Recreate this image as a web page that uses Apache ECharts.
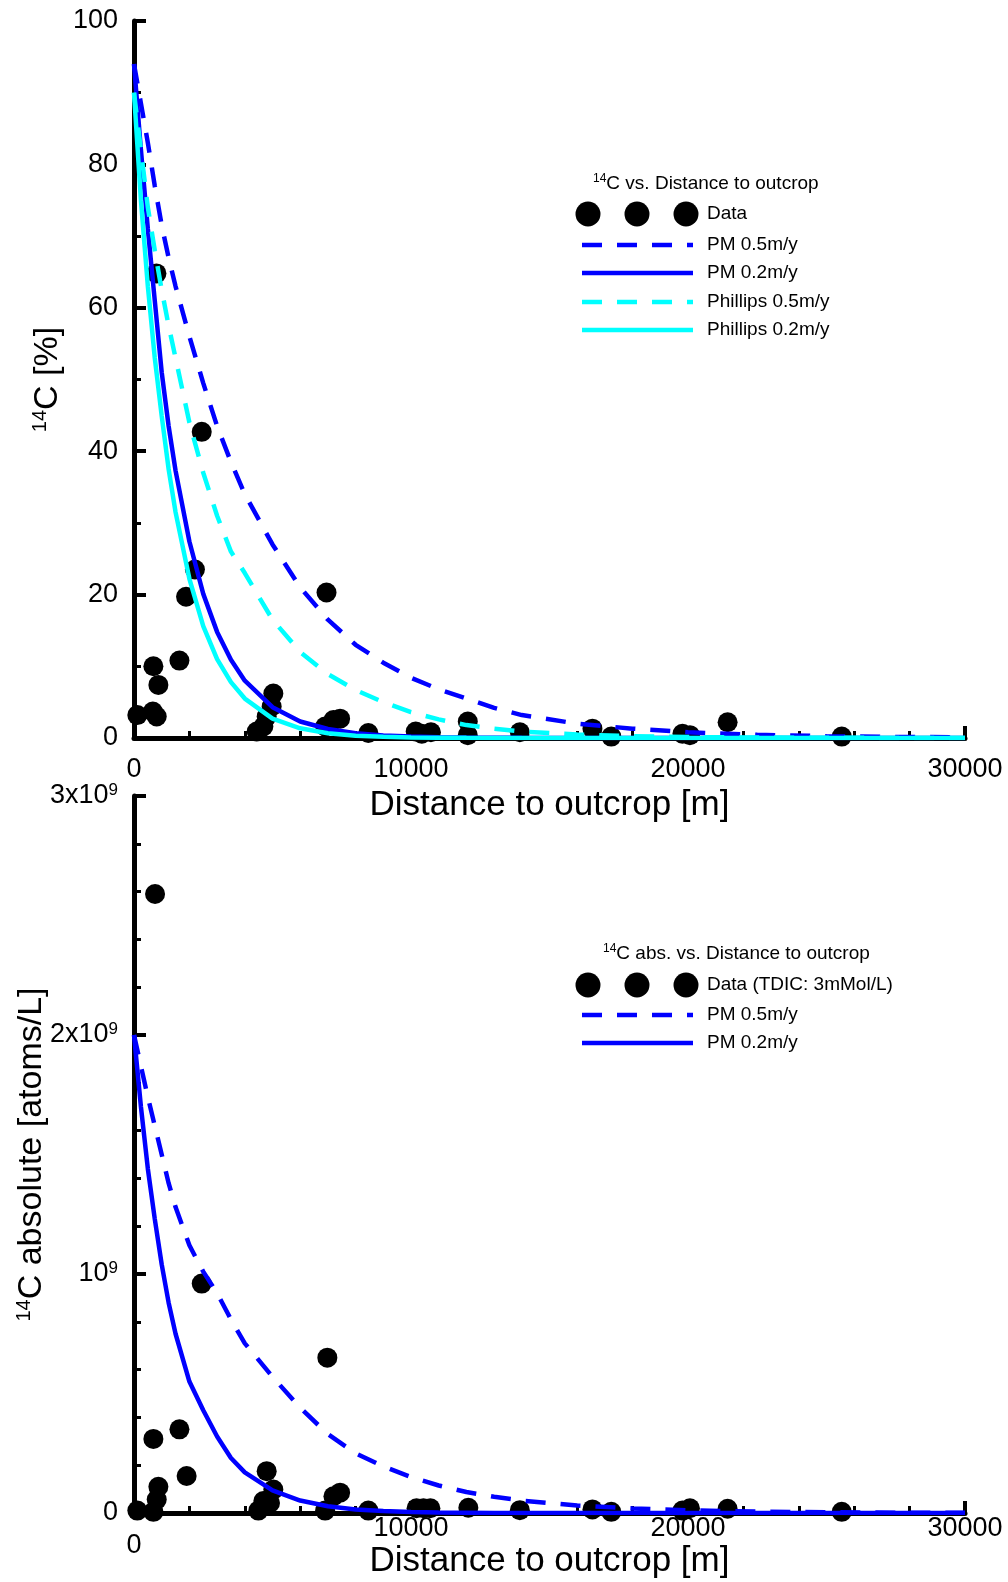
<!DOCTYPE html>
<html>
<head>
<meta charset="utf-8">
<title>14C vs distance to outcrop</title>
<script src="https://cdn.jsdelivr.net/npm/echarts@6/dist/echarts.min.js"></script>
<style>
  html, body { margin: 0; padding: 0; background: #fff; }
  #charts { width: 1008px; height: 1582px; }
</style>
</head>
<body>
<div id="charts"></div>
<script>
  // measured samples: [distance to outcrop (m), value]
  var pctData = [
    [120, 3.2], [700, 10.0], [680, 3.7], [820, 3.0], [880, 7.4], [810, 64.8],
    [1640, 10.8], [1880, 19.7], [2200, 23.5], [2445, 42.7],
    [4430, 0.9], [4670, 1.6], [4790, 3.0], [4970, 4.4], [5030, 6.2],
    [6900, 1.6], [6950, 20.3], [7200, 2.5], [7440, 2.7], [8460, 0.7],
    [10170, 0.9], [10390, 0.6], [10720, 0.8], [12050, 2.3], [12050, 0.4],
    [13930, 0.8], [16550, 1.3], [17230, 0.2], [19800, 0.6], [20070, 0.4],
    [21430, 2.2], [25550, 0.2]
  ];
  var absData = [
    [120, 0.01e9], [700, 0.31e9], [700, 0.005e9], [820, 0.056e9], [880, 0.11e9], [760, 2.59e9],
    [1640, 0.35e9], [1900, 0.155e9], [2445, 0.96e9],
    [4490, 0.01e9], [4670, 0.05e9], [4790, 0.175e9], [4910, 0.042e9], [5030, 0.098e9],
    [6900, 0.01e9], [6980, 0.65e9], [7200, 0.07e9], [7440, 0.085e9], [8460, 0.01e9],
    [10200, 0.02e9], [10450, 0.02e9], [10700, 0.02e9], [12070, 0.022e9], [13930, 0.012e9],
    [16550, 0.015e9], [17230, 0.005e9], [19800, 0.01e9], [20070, 0.02e9], [21430, 0.018e9],
    [25550, 0.005e9]
  ];

  // model curves at these distances
  var curveX = [0, 250, 500, 750, 1000, 1250, 1500, 2000, 2500, 3000, 3500, 4000, 5000, 6000,
    7000, 8000, 9000, 10000, 11000, 12000, 13000, 14000, 16000, 18000, 20000, 22500, 25000, 27500, 30000];
  var pm05Pct = [94, 88.5, 83, 77, 71.5, 67, 63, 56, 49.5, 43.5, 38.5, 34, 27, 21,
    16.5, 13, 10.5, 8.4, 6.8, 5.5, 4.2, 3.2, 2.0, 1.3, 0.8, 0.45, 0.25, 0.15, 0.1];
  var pm02Pct = [94, 82, 71, 61, 51, 43.5, 37.3, 27.4, 20.1, 14.8, 10.9, 8.0, 4.3, 2.3,
    1.25, 0.67, 0.36, 0.2, 0.1, 0.06, 0.03, 0.02, 0.01, 0, 0, 0, 0, 0, 0];
  var ph05Pct = [90, 82, 74, 68, 62.5, 57.5, 53, 44, 37, 31, 26, 23, 16.5, 12,
    8.9, 6.7, 5.0, 3.6, 2.6, 1.8, 1.3, 0.9, 0.5, 0.25, 0.13, 0.06, 0.03, 0.01, 0.01];
  var ph02Pct = [90, 75, 63, 53, 44.9, 37.5, 31.5, 22.2, 15.6, 11.0, 7.8, 5.5, 2.7, 1.35,
    0.67, 0.33, 0.17, 0.08, 0.04, 0.02, 0.01, 0, 0, 0, 0, 0, 0, 0, 0];
  var pm05Abs = [2.0e9, 1.87e9, 1.74e9, 1.62e9, 1.50e9, 1.38e9, 1.28e9, 1.12e9, 1.01e9, 0.92e9, 0.81e9, 0.71e9, 0.57e9, 0.44e9,
    0.33e9, 0.25e9, 0.195e9, 0.15e9, 0.115e9, 0.088e9, 0.068e9, 0.052e9, 0.031e9, 0.019e9, 0.011e9, 0.006e9, 0.003e9, 0.0015e9, 0.001e9];
  var pm02Abs = [2.0e9, 1.70e9, 1.44e9, 1.23e9, 1.04e9, 0.88e9, 0.75e9, 0.55e9, 0.43e9, 0.32e9, 0.23e9, 0.17e9, 0.095e9, 0.052e9,
    0.028e9, 0.015e9, 0.008e9, 0.004e9, 0.002e9, 0.001e9, 0, 0, 0, 0, 0, 0, 0, 0, 0];

  var xTickLabels = ['0', '10000', '20000', '30000'];
  var pctTickLabels = ['0', '20', '40', '60', '80', '100'];
  var absTickLabels = ['0', '10^9', '2x10^9', '3x10^9'];

  var FONT = "'Liberation Sans', Arial, sans-serif";
  var BLUE = '#0000ff';
  var CYAN = '#00ffff';
  var DASH = [20, 15];

  function pair(xs, ys) {
    return xs.map(function (x, i) { return [x, ys[i]]; });
  }

  function supLabel(t) {
    var p = t.split('^');
    return p.length > 1 ? '{b|' + p[0] + '}{s|' + p[1] + '}' : '{b|' + t + '}';
  }

  var tickRich = {
    b: { fontSize: 27, lineHeight: 29, fontFamily: FONT, color: '#000' },
    s: { fontSize: 17, lineHeight: 17, verticalAlign: 'top', fontFamily: FONT, color: '#000' },
    z: { fontSize: 27, fontFamily: FONT, color: '#000', padding: [17, 0, 0, 0] }
  };
  var nameRich = {
    s: { fontSize: 20, lineHeight: 22, verticalAlign: 'top', fontFamily: FONT, color: '#000' },
    n: { fontSize: 34, lineHeight: 36, fontFamily: FONT, color: '#000' }
  };

  function axisBase(min, max, interval, minorSplit) {
    return {
      min: min, max: max, interval: interval,
      nameMoveOverlap: false,
      axisLine: { onZero: false, lineStyle: { color: '#000', width: 5 } },
      axisTick: { inside: true, length: 12, lineStyle: { color: '#000', width: 4 } },
      minorTick: { show: true, splitNumber: minorSplit, length: 7, lineStyle: { color: '#000', width: 3 } },
      splitLine: { show: false },
      minorSplitLine: { show: false }
    };
  }

  function xAxis(idx, labelMargin, nameGap, zeroLow) {
    var a = axisBase(0, 30000, 10000, 5);
    a.type = 'value';
    a.gridIndex = idx;
    a.name = 'Distance to outcrop [m]';
    a.nameLocation = 'middle';
    a.nameGap = nameGap;
    a.nameTextStyle = { fontSize: 35, fontFamily: FONT, color: '#000' };
    a.axisLabel = {
      margin: labelMargin, fontSize: 27, fontFamily: FONT, color: '#000', rich: tickRich,
      formatter: function (v) {
        var t = xTickLabels[Math.round(v / 10000)];
        return (zeroLow && v === 0) ? '{z|' + t + '}' : t;
      }
    };
    return a;
  }

  var pctY = axisBase(0, 100, 20, 2);
  pctY.type = 'value';
  pctY.gridIndex = 0;
  pctY.name = '{s|14}{n|C [%]}';
  pctY.nameLocation = 'middle';
  pctY.nameGap = 68;
  pctY.nameTextStyle = { rich: nameRich };
  pctY.axisLabel = {
    margin: 16, fontSize: 27, fontFamily: FONT, color: '#000',
    formatter: function (v) { return pctTickLabels[Math.round(v / 20)]; }
  };

  var absY = axisBase(0, 3e9, 1e9, 5);
  absY.type = 'value';
  absY.gridIndex = 1;
  absY.name = '{s|14}{n|C absolute [atoms/L]}';
  absY.nameLocation = 'middle';
  absY.nameGap = 84;
  absY.nameTextStyle = { rich: nameRich };
  absY.axisLabel = {
    margin: 16, rich: tickRich,
    formatter: function (v) { return supLabel(absTickLabels[Math.round(v / 1e9)]); }
  };

  function line(name, xi, data, color, dashed) {
    return {
      name: name, type: 'line', xAxisIndex: xi, yAxisIndex: xi,
      data: data, symbol: 'none', smooth: false,
      lineStyle: { color: color, width: 4.5, type: dashed ? DASH : 'solid' }
    };
  }

  function legendBlock(top, titleX, titleText, rows) {
    var els = [{
      type: 'text', x: titleX, y: top,
      style: {
        text: '{s|14}{n|' + titleText + '}', verticalAlign: 'middle', align: 'left',
        rich: {
          s: { fontSize: 12, lineHeight: 12, verticalAlign: 'top', fontFamily: FONT, fill: '#000' },
          n: { fontSize: 19, lineHeight: 22, fontFamily: FONT, fill: '#000' }
        }
      }
    }];
    rows.forEach(function (r) {
      if (r.dots) {
        [588, 637, 686].forEach(function (cx) {
          els.push({ type: 'circle', shape: { cx: cx, cy: r.y, r: 12.5 }, style: { fill: '#000' } });
        });
      } else {
        els.push({
          type: 'line', shape: { x1: 582, y1: r.y, x2: 693, y2: r.y },
          style: { stroke: r.color, lineWidth: 4.5, lineDash: r.dashed ? DASH : null }
        });
      }
      els.push({
        type: 'text', x: 707, y: r.y,
        style: { text: r.label, fontSize: 19, fontFamily: FONT, fill: '#000', verticalAlign: 'middle', align: 'left' }
      });
    });
    return els;
  }

  var chart = echarts.init(document.getElementById('charts'));
  chart.setOption({
    animation: false,
    backgroundColor: '#fff',
    grid: [
      { left: 134, right: 43, top: 21, height: 717, outerBoundsMode: 'none', containLabel: false },
      { left: 134, right: 43, top: 796, height: 717, outerBoundsMode: 'none', containLabel: false }
    ],
    xAxis: [xAxis(0, 18, 50, false), xAxis(1, 2, 31, true)],
    yAxis: [pctY, absY],
    series: [
      { name: 'Data', type: 'scatter', xAxisIndex: 0, yAxisIndex: 0, data: pctData,
        symbol: 'circle', symbolSize: 20, itemStyle: { color: '#000', opacity: 1 } },
      line('PM 0.5m/y', 0, pair(curveX, pm05Pct), BLUE, true),
      line('PM 0.2m/y', 0, pair(curveX, pm02Pct), BLUE, false),
      line('Phillips 0.5m/y', 0, pair(curveX, ph05Pct), CYAN, true),
      line('Phillips 0.2m/y', 0, pair(curveX, ph02Pct), CYAN, false),
      { name: 'Data (TDIC: 3mMol/L)', type: 'scatter', xAxisIndex: 1, yAxisIndex: 1, data: absData,
        symbol: 'circle', symbolSize: 20, itemStyle: { color: '#000', opacity: 1 } },
      line('PM 0.5m/y', 1, pair(curveX, pm05Abs), BLUE, true),
      line('PM 0.2m/y', 1, pair(curveX, pm02Abs), BLUE, false)
    ],
    graphic: legendBlock(184, 593, 'C vs. Distance to outcrop', [
      { y: 214, dots: true, label: 'Data' },
      { y: 245, color: BLUE, dashed: true, label: 'PM 0.5m/y' },
      { y: 273, color: BLUE, dashed: false, label: 'PM 0.2m/y' },
      { y: 302, color: CYAN, dashed: true, label: 'Phillips 0.5m/y' },
      { y: 330, color: CYAN, dashed: false, label: 'Phillips 0.2m/y' }
    ]).concat(legendBlock(954, 603, 'C abs. vs. Distance to outcrop', [
      { y: 985, dots: true, label: 'Data (TDIC: 3mMol/L)' },
      { y: 1015, color: BLUE, dashed: true, label: 'PM 0.5m/y' },
      { y: 1043, color: BLUE, dashed: false, label: 'PM 0.2m/y' }
    ]))
  });
</script>
</body>
</html>
